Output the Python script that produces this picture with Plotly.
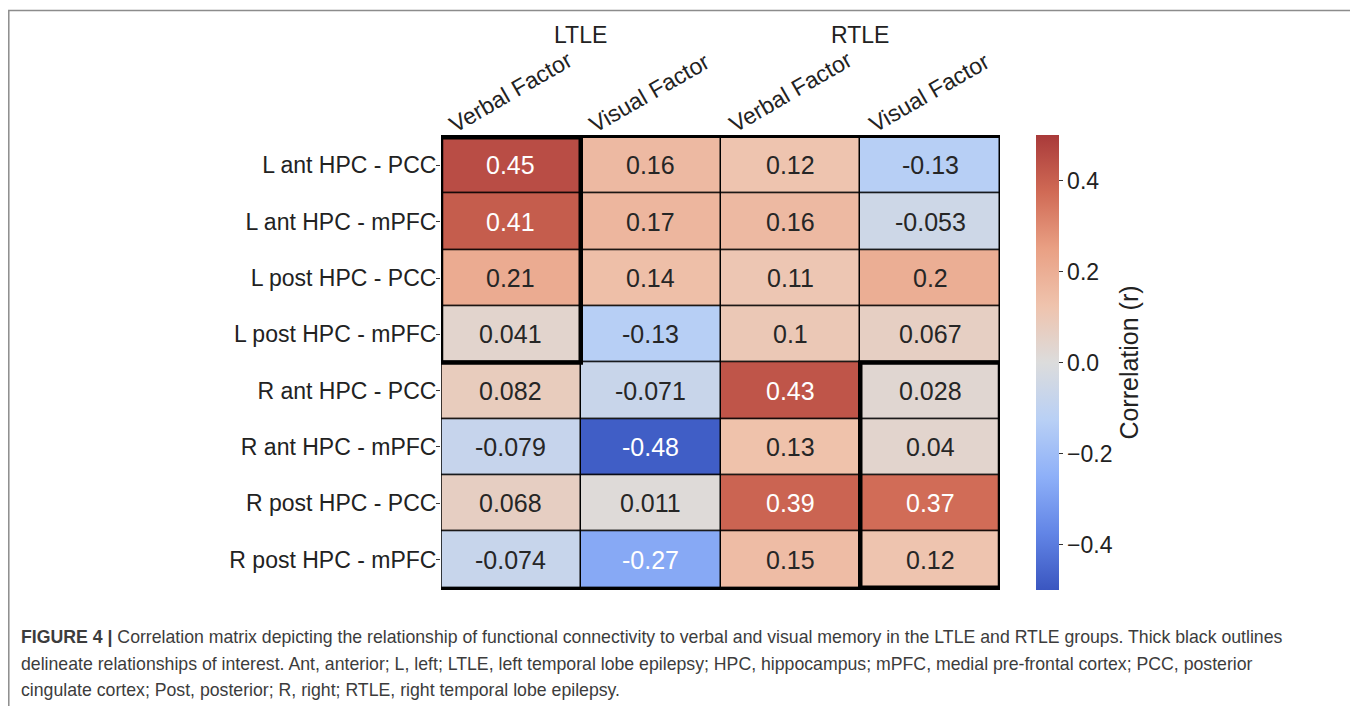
import plotly.graph_objects as go

# ---------------- data ----------------
row_labels = ["L ant HPC - PCC", "L ant HPC - mPFC", "L post HPC - PCC", "L post HPC - mPFC",
              "R ant HPC - PCC", "R ant HPC - mPFC", "R post HPC - PCC", "R post HPC - mPFC"]
col_labels = ["Verbal Factor", "Visual Factor", "Verbal Factor", "Visual Factor"]
group_labels = ["LTLE", "RTLE"]
ltle_verbal = [0.45, 0.41, 0.21, 0.041, 0.082, -0.079, 0.068, -0.074]
ltle_visual = [0.16, 0.17, 0.14, -0.13, -0.071, -0.48, 0.011, -0.27]
rtle_verbal = [0.12, 0.16, 0.11, 0.1, 0.43, 0.13, 0.39, 0.15]
rtle_visual = [-0.13, -0.053, 0.2, 0.067, 0.028, 0.04, 0.37, 0.12]
cbar_tickvals = [0.4, 0.2, 0.0, -0.2, -0.4]
cbar_ticktext = ["0.4", "0.2", "0.0", "\u22120.2", "\u22120.4"]
caption_lines = [
    "<b>FIGURE 4 |</b> Correlation matrix depicting the relationship of functional connectivity to verbal and visual memory in the LTLE and RTLE groups. Thick black outlines",
    "delineate relationships of interest. Ant, anterior; L, left; LTLE, left temporal lobe epilepsy; HPC, hippocampus; mPFC, medial pre-frontal cortex; PCC, posterior",
    "cingulate cortex; Post, posterior; R, right; RTLE, right temporal lobe epilepsy.",
]

columns = [ltle_verbal, ltle_visual, rtle_verbal, rtle_visual]
z = [[columns[c][r] for c in range(4)] for r in range(len(row_labels))]
xi = list(range(len(col_labels)))
yi = list(range(len(row_labels)))

# ---------------- layout geometry (pixels) ----------------
OFF = 8  # page body margin
W, H = 1358 - OFF, 706 - OFF
L, T = 441 - OFF, 135 - OFF
R = W - (1000 - OFF)
B = H - (590 - OFF)
pw, ph = W - L - R, H - T - B

def px_x(px):  # px in window coordinates
    return (px - OFF - L) / pw

def px_y(py):
    return (H - B - (py - OFF)) / ph

FONT = "Liberation Sans, Arial, sans-serif"

colorscale = [
    [0.0, "#3a56c0"], [0.125, "#6285e6"], [0.25, "#8eb0f8"], [0.375, "#b9d0f5"],
    [0.5, "#dcdcdc"], [0.625, "#efc3ad"], [0.75, "#e9a084"], [0.875, "#d06a55"],
    [1.0, "#a93a3a"],
]

fig = go.Figure(go.Heatmap(
    z=z, x=xi, y=yi, zmin=-0.5, zmax=0.5, colorscale=colorscale,
    xgap=1.5, ygap=1.5, hoverinfo="skip",
    colorbar=dict(
        x=px_x(1036), xanchor="left", xpad=0, ypad=0, y=0.5, yanchor="middle",
        len=1, lenmode="fraction", thickness=23, outlinewidth=0,
        tickvals=cbar_tickvals, ticktext=cbar_ticktext, ticks="outside", ticklen=4,
        tickcolor="#333", tickfont=dict(size=23, color="#222", family=FONT),
        title=dict(text="Correlation (r)", side="right", font=dict(size=25, color="#222", family=FONT)),
    ),
))

annotations = []
# cell values
for r in yi:
    for c in xi:
        v = z[r][c]
        annotations.append(dict(
            x=c, y=r, xref="x", yref="y", text=f"{v:g}", showarrow=False,
            font=dict(size=25, family=FONT, color="white" if abs(v) > 0.25 else "#262626"),
        ))
# rotated column labels
for c, lab in enumerate(col_labels):
    annotations.append(dict(
        x=c - 0.5, y=1, xref="x", yref="paper", text=lab, showarrow=False,
        textangle=-30, xanchor="left", yanchor="bottom", xshift=1, yshift=-5,
        font=dict(size=23, family=FONT, color="#222"),
    ))
# group labels
for g, lab in enumerate(group_labels):
    annotations.append(dict(
        x=2 * g + 0.5, y=px_y(35), xref="x", yref="paper", text=lab, showarrow=False,
        xanchor="center", yanchor="middle", font=dict(size=23, family=FONT, color="#222"),
    ))
# caption
for i, line in enumerate(caption_lines):
    annotations.append(dict(
        x=px_x(19), y=px_y(637 + 26.5 * i), xref="paper", yref="paper", text=line,
        showarrow=False, xanchor="left", yanchor="middle", align="left",
        font=dict(size=17.7, color="#3c3c3c", family=FONT),
    ))

shapes = [
    # whole-matrix thin border
    dict(type="rect", xref="x", yref="y", x0=-0.5, x1=3.5, y0=-0.5, y1=7.5,
         line=dict(color="black", width=1.5)),
    # thick outlines
    dict(type="rect", xref="x", yref="y", x0=-0.5, x1=0.5, y0=-0.5, y1=3.5,
         line=dict(color="black", width=4.5)),
    dict(type="rect", xref="x", yref="y", x0=2.5, x1=3.5, y0=3.5, y1=7.5,
         line=dict(color="black", width=4.5)),
    # figure frame
    dict(type="rect", xref="paper", yref="paper", x0=px_x(8.8), x1=px_x(1352),
         y0=px_y(740), y1=px_y(10.5), line=dict(color="#8c8c8c", width=1.5)),
]

fig.update_layout(
    width=W, height=H, margin=dict(l=L, r=R, t=T, b=B, autoexpand=False),
    paper_bgcolor="white", plot_bgcolor="black",
    font=dict(family=FONT, color="#222"),
    annotations=annotations, shapes=shapes,
    xaxis=dict(side="top", showticklabels=False, ticks="", showgrid=False, zeroline=False,
               range=[-0.5, 3.5], fixedrange=True),
    yaxis=dict(tickvals=yi, ticktext=row_labels, autorange="reversed", ticks="outside",
               ticklen=4, tickcolor="#333", ticklabelstandoff=-5,
               tickfont=dict(size=23, color="#222", family=FONT),
               showgrid=False, zeroline=False, fixedrange=True),
)

fig.write_html("out.html")
